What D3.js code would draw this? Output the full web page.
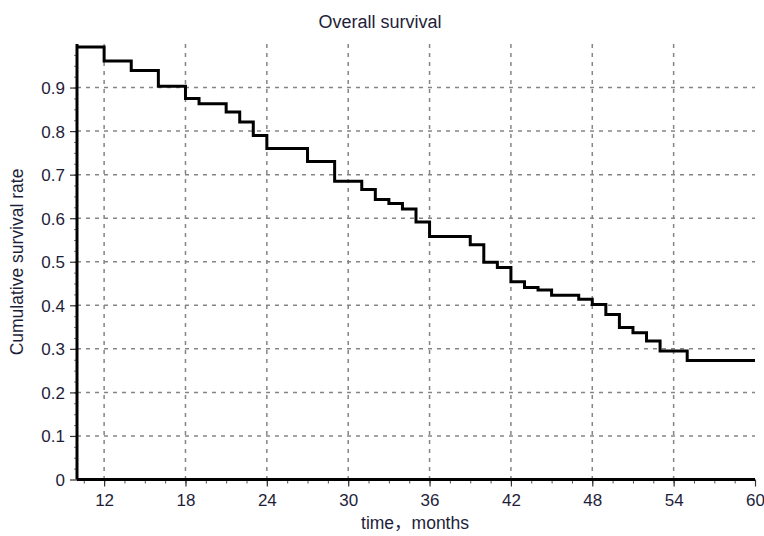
<!DOCTYPE html>
<html>
<head>
<meta charset="utf-8">
<script src="https://cdn.jsdelivr.net/npm/d3@7"></script>
<style>
  body { margin: 0; background: #fff; }
  text { font-family: "Liberation Sans", Arial, "Noto Sans CJK SC", sans-serif; fill: #1e1e3a; }
</style>
</head>
<body>
<div id="chart"></div>
<script>
// step times (months) and survival rate from that time on
const months = [10, 12, 14, 16, 18, 19, 21, 22, 23, 24, 27, 29, 31, 32, 33, 34, 35, 36, 39, 40,
  41, 42, 43, 44, 45, 47, 48, 49, 50, 51, 52, 53, 55, 60]
const survival = [0.993, 0.961, 0.939, 0.903, 0.875, 0.863, 0.844, 0.821, 0.790, 0.760, 0.730, 0.685,
  0.666, 0.643, 0.634, 0.621, 0.591, 0.558, 0.539, 0.499, 0.487, 0.454, 0.441, 0.435, 0.423, 0.414,
  0.402, 0.379, 0.349, 0.337, 0.318, 0.295, 0.273, 0.273]
const xTicks = [12, 18, 24, 30, 36, 42, 48, 54, 60]
const yTicks = [0, 0.1, 0.2, 0.3, 0.4, 0.5, 0.6, 0.7, 0.8, 0.9]

const data = months.map((m, i) => ({ m, s: survival[i] }))

const width = 764
const height = 536
const margin = { left: 77, right: 9, top: 44, bottom: 56.5 }

const svg = d3.select('#chart')
  .append('svg')
  .attr('width', width)
  .attr('height', height)

const x = d3.scaleLinear()
  .domain([10, 60])
  .range([margin.left, width - margin.right])

const y = d3.scaleLinear()
  .domain([0, 1])
  .range([height - margin.bottom, margin.top])

// grid
const grid = svg.append('g')
  .attr('stroke', '#858585')
  .attr('stroke-width', 1.5)
  .attr('stroke-dasharray', '4,5')

grid.selectAll('.vg')
  .data(xTicks.filter(d => d < 60))
  .enter().append('line')
    .attr('x1', d => x(d))
    .attr('x2', d => x(d))
    .attr('y1', y(1))
    .attr('y2', y(0))

grid.selectAll('.hg')
  .data(yTicks.filter(d => d > 0))
  .enter().append('line')
    .attr('x1', x(10))
    .attr('x2', x(60))
    .attr('y1', d => y(d))
    .attr('y2', d => y(d))

// minor ticks
svg.append('g')
  .attr('transform', `translate(0, ${y(0)})`)
  .call(d3.axisBottom(x).tickValues(d3.range(10.5, 60, 1.5)).tickSize(4).tickFormat(''))
  .call(g => g.select('.domain').remove())
  .call(g => g.selectAll('line').attr('stroke', '#555'))

svg.append('g')
  .attr('transform', `translate(${x(10)}, 0)`)
  .call(d3.axisLeft(y).tickValues(d3.range(0.025, 1, 0.025)).tickSize(3).tickFormat(''))
  .call(g => g.select('.domain').remove())
  .call(g => g.selectAll('line').attr('stroke', '#777'))

// major axes
const xAxis = svg.append('g')
  .attr('transform', `translate(0, ${y(0)})`)
  .call(d3.axisBottom(x).tickValues(xTicks).tickSize(7).tickPadding(7))
xAxis.select('.domain').remove()
xAxis.selectAll('line').attr('stroke', '#333').attr('stroke-width', 1.2)
xAxis.selectAll('text').attr('font-size', '17px').attr('font-family', null)

const yAxis = svg.append('g')
  .attr('transform', `translate(${x(10)}, 0)`)
  .call(d3.axisLeft(y).tickValues(yTicks).tickSize(7).tickPadding(5).tickFormat(d => d === 0 ? '0' : d3.format('.1f')(d)))
yAxis.select('.domain').remove()
yAxis.selectAll('line').attr('stroke', '#333').attr('stroke-width', 1.2)
yAxis.selectAll('text').attr('font-size', '17px').attr('font-family', null).attr('dy', '0.35em')

svg.append('line')
  .attr('x1', x(10)).attr('x2', x(60))
  .attr('y1', y(0)).attr('y2', y(0))
  .attr('stroke', '#000')
  .attr('stroke-width', 3)

svg.append('line')
  .attr('x1', x(10)).attr('x2', x(10))
  .attr('y1', y(1)).attr('y2', y(0))
  .attr('stroke', '#000')
  .attr('stroke-width', 3)

// survival curve
const line = d3.line()
  .x(d => x(d.m))
  .y(d => y(d.s))
  .curve(d3.curveStepAfter)

svg.append('path')
  .datum(data)
  .attr('d', line)
  .attr('fill', 'none')
  .attr('stroke', '#000')
  .attr('stroke-width', 3)

// title and labels
svg.append('text')
  .attr('x', 380)
  .attr('y', 28)
  .attr('text-anchor', 'middle')
  .attr('font-size', '18px')
  .text('Overall survival')

svg.append('text')
  .attr('x', 415)
  .attr('y', 529)
  .attr('text-anchor', 'middle')
  .attr('font-size', '17.5px')
  .text('time，months')

svg.append('text')
  .attr('transform', 'translate(23, 262) rotate(-90)')
  .attr('text-anchor', 'middle')
  .attr('font-size', '17.5px')
  .text('Cumulative survival rate')
</script>
</body>
</html>
